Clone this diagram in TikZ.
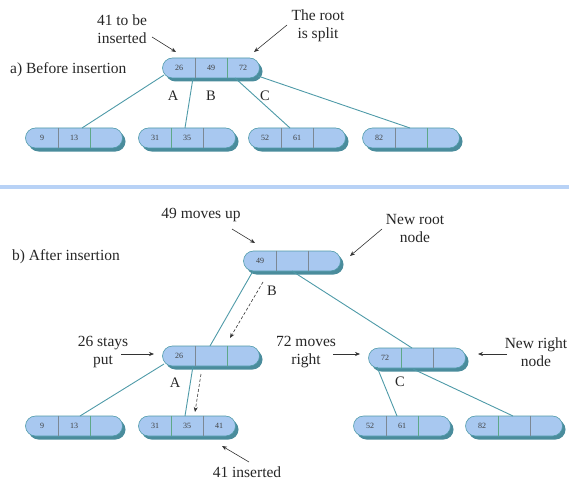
\documentclass[tikz,border=0pt]{standalone}
\usepackage{fontspec}
\setmainfont{Liberation Serif}
\usetikzlibrary{shapes.misc,calc,arrows.meta}
\definecolor{cellfill}{HTML}{A8C8F0}
\definecolor{tealline}{HTML}{4E9AA8}
\definecolor{tealshadow}{HTML}{4A8C9C}
\definecolor{divgray}{HTML}{7C8894}
\definecolor{divgreen}{HTML}{5EA888}
\definecolor{seplight}{HTML}{B8D2F6}
\tikzset{
  btbox/.style={rounded rectangle, minimum width=97pt, minimum height=20pt, inner sep=0pt,
    fill=cellfill, draw=tealline, line width=0.6pt},
  btshadow/.style={rounded rectangle, minimum width=97pt, minimum height=20pt, inner sep=0pt,
    fill=tealshadow},
  cellnum/.style={font=\fontsize{8}{9}\selectfont, text=black!75, inner sep=0pt},
  edge/.style={draw=tealline, line width=0.9pt},
  ann/.style={draw=black!80, line width=0.6pt, -{Stealth[length=5pt,width=4pt]}},
  dashedarrow/.style={draw=black!80, line width=0.6pt, dashed, dash pattern=on 3pt off 2pt, -{Stealth[length=5pt,width=4pt]}},
  lbl/.style={font=\fontsize{15.5}{18}\selectfont, align=center, inner sep=0pt, text=black!85},
  letter/.style={font=\fontsize{14.5}{16}\selectfont, inner sep=0pt, text=black!85}
}
\newcommand{\btnode}[7]{%
  \node[btshadow] at ($#2+(3,3.5)$) {};
  \node[btbox] (#1) at #2 {};
  \draw[#6, line width=0.8pt] ([xshift=-16pt]#1.north) -- ([xshift=-16pt]#1.south);
  \draw[#7, line width=0.8pt] ([xshift=16pt]#1.north) -- ([xshift=16pt]#1.south);
  \node[cellnum] at ([xshift=-32pt]#1.center) {#3};
  \node[cellnum] at (#1.center) {#4};
  \node[cellnum] at ([xshift=32pt]#1.center) {#5};
}
\begin{document}
\begin{tikzpicture}[x=1pt,y=-1pt]
\useasboundingbox (0,0) rectangle (569,481);
% ---------- part a ----------
\node[lbl, anchor=west] (ta) at (10,70) {a) Before insertion};
\node[lbl] (t41) at (122,29) {41 to be\\inserted};
\node[lbl] (troot) at (318,26) {The root\\is split};

\btnode{ra}{(211,68)}{26}{49}{72}{divgray}{divgreen}
\btnode{la1}{(74,138)}{9}{13}{}{divgray}{divgreen}
\btnode{la2}{(187,138)}{31}{35}{}{divgreen}{divgray}
\btnode{la3}{(297,138)}{52}{61}{}{divgray}{divgray}
\btnode{la4}{(411,138)}{82}{}{}{divgray}{divgreen}

\path[edge] ($(ra.center)+(-47,7)$) -- ($(la1.center)+(8,-10)$);
\path[edge] ($(ra.center)+(-18,10)$) -- ($(la2.center)+(-2,-10)$);
\path[edge] ($(ra.center)+(24,10)$) -- ($(la3.center)+(-7,-10)$);
\path[edge] ($(ra.center)+(47,8)$) -- ($(la4.center)+(-1,-10)$);

\node[letter] (lA) at (173,96) {A};
\node[letter] (lB) at (211,96) {B};
\node[letter] (lC) at (265,96) {C};

\coordinate (a41s) at (152,37);
\coordinate (a41e) at (176,52);
\draw[ann] (a41s) -- (a41e);
\coordinate (arts) at (287,25);
\coordinate (arte) at (254,52);
\draw[ann] (arts) -- (arte);

% separator
\draw[seplight, line width=3.5pt] (0,187) -- (569,187);

% ---------- part b ----------
\node[lbl, anchor=west] (tb) at (12,257) {b) After insertion};
\node[lbl] (t49) at (201,215) {49 moves up};
\node[lbl] (tnr) at (415,228) {New root\\node};
\node[lbl] (t26) at (103,352) {26 stays\\put};
\node[lbl] (t72) at (306,352) {72 moves\\right};
\node[lbl] (tnrn) at (536,352) {New right\\node};
\node[lbl] (t41i) at (247,472) {41 inserted};

\btnode{nr}{(292,261)}{49}{}{}{divgray}{divgray}
\btnode{n26}{(211,356)}{26}{}{}{divgray}{divgreen}
\btnode{n72}{(417,358)}{72}{}{}{divgreen}{divgray}
\btnode{lb1}{(74,426)}{9}{13}{}{divgray}{divgreen}
\btnode{lb2}{(187,426)}{31}{35}{41}{divgreen}{divgray}
\btnode{lb3}{(402,426)}{52}{61}{}{divgray}{divgreen}
\btnode{lb4}{(514,426)}{82}{}{}{divgreen}{divgray}

\path[edge] ($(nr.center)+(-39,10)$) -- ($(n26.center)+(-1,-10)$);
\path[edge] ($(nr.center)+(0,10)$) -- ($(n72.center)+(-5,-10)$);
\draw[dashedarrow] ($(nr.center)+(-29,21)$) -- ($(n26.center)+(19,-18)$);

\path[edge] ($(n26.center)+(-47,8)$) -- ($(lb1.center)+(6,-10)$);
\path[edge] ($(n26.center)+(-18,10)$) -- ($(lb2.center)+(-2,-10)$);
\draw[dashedarrow] ($(n26.center)+(-10,18)$) -- ($(lb2.center)+(8,-14)$);

\path[edge] ($(n72.center)+(-40,9)$) -- ($(lb3.center)+(-5,-10)$);
\path[edge] ($(n72.center)+(-4,11)$) -- ($(lb4.center)+(-1,-10)$);

\node[letter] (lB2) at (272,291) {B};
\node[letter] (lA2) at (175,383) {A};
\node[letter] (lC2) at (400,382) {C};

\coordinate (a49s) at (232,229);
\coordinate (a49e) at (255,243);
\draw[ann] (a49s) -- (a49e);
\coordinate (anrs) at (382,229);
\coordinate (anre) at (350,256);
\draw[ann] (anrs) -- (anre);
\coordinate (a26s) at (121,354);
\coordinate (a26e) at (154,354);
\draw[ann] (a26s) -- (a26e);
\coordinate (a72s) at (333,354);
\coordinate (a72e) at (360,354);
\draw[ann] (a72s) -- (a72e);
\coordinate (anrns) at (507,354);
\coordinate (anrne) at (478,354);
\draw[ann] (anrns) -- (anrne);
\coordinate (a41is) at (249,462);
\coordinate (a41ie) at (222,446);
\draw[ann] (a41is) -- (a41ie);
\end{tikzpicture}
\end{document}
